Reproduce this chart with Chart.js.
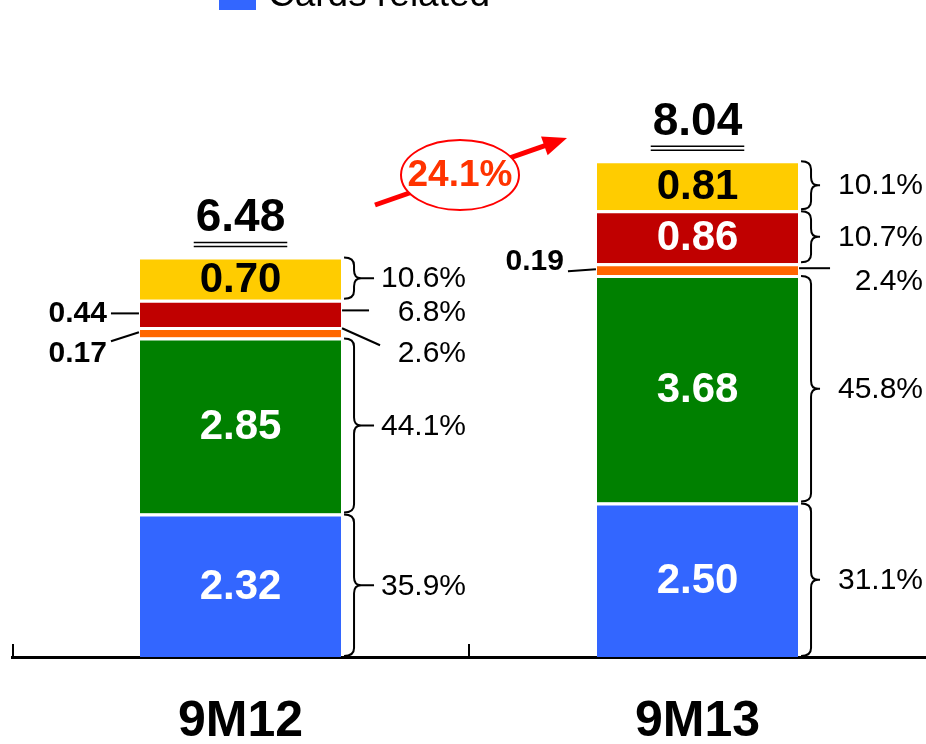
<!DOCTYPE html>
<html>
<head>
<meta charset="utf-8">
<script src="https://cdn.jsdelivr.net/npm/chart.js@4.4.0/dist/chart.umd.min.js"></script>
<style>
html, body { margin: 0; padding: 0; background: #fff; }
#wrap { width: 926px; height: 744px; }
</style>
</head>
<body>
<div id="wrap"><canvas id="chart" width="926" height="744"></canvas></div>
<script>
// Werte (EUR bn) je Periode, von unten nach oben gestapelt
const categories = ['9M12', '9M13'];
const cardsRelated = [2.32, 2.50];
const greenSeries = [2.85, 3.68];
const orangeSeries = [0.17, 0.19];
const redSeries = [0.44, 0.86];
const yellowSeries = [0.70, 0.81];
const totals = ['6.48', '8.04'];
const growthLabel = '24.1%';

// Anteile wie im Bild beschriftet
const cardsShare = ['35.9%', '31.1%'];
const greenShare = ['44.1%', '45.8%'];
const orangeShare = ['2.6%', '2.4%'];
const redShare = ['6.8%', '10.7%'];
const yellowShare = ['10.6%', '10.1%'];

const FONT = "'Liberation Sans', Arial, sans-serif";

const shares = [cardsShare, greenShare, orangeShare, redShare, yellowShare];
const insideTextColor = ['#fff', '#fff', '#fff', '#fff', '#000'];
const braceTip = [30, 19];

// kleine Segmente: Beschriftung links/rechts mit Linie
const leftCallouts = {
    '3-0': { dy: 0, lineDy: 0 },
    '2-0': { dy: 21, lineDy: -12 },
    '2-1': { dy: -7, lineDy: 9 }
};
const rightCallouts = {
    '3-0': { textDy: -1, s0: -3, s1: -3, len: 28 },
    '2-0': { textDy: 21, s0: -4, s1: 13, len: 39 },
    '2-1': { textDy: 13, s0: -1, s1: -1, len: 32 }
};

function drawBrace(ctx, x, top, bottom, tip) {
    const mid = (top + bottom) / 2;
    const w = 10;
    const r = Math.min(8, (bottom - top) / 4);
    ctx.beginPath();
    ctx.moveTo(x, top);
    ctx.quadraticCurveTo(x + w, top, x + w, top + r);
    ctx.lineTo(x + w, mid - r);
    ctx.quadraticCurveTo(x + w, mid, x + w + 7, mid);
    ctx.lineTo(x + tip, mid);
    ctx.moveTo(x + w + 7, mid);
    ctx.quadraticCurveTo(x + w, mid, x + w, mid + r);
    ctx.lineTo(x + w, bottom - r);
    ctx.quadraticCurveTo(x + w, bottom, x, bottom);
    ctx.stroke();
}

const annotations = {
    id: 'annotations',
    afterDatasetsDraw(chart) {
        const ctx = chart.ctx;
        const n = chart.data.datasets.length;
        ctx.save();
        ctx.strokeStyle = '#000';
        ctx.lineWidth = 2;

        for (let i = 0; i < n; i++) {
            const meta = chart.getDatasetMeta(i);
            meta.data.forEach((bar, j) => {
                const p = bar.getProps(['x', 'y', 'base', 'width'], true);
                const left = p.x - p.width / 2;
                const right = p.x + p.width / 2;
                const top = Math.min(p.y, p.base);
                const bottom = Math.max(p.y, p.base);
                const mid = (top + bottom) / 2;
                const h = bottom - top;
                const value = chart.data.datasets[i].data[j].toFixed(2);
                const key = i + '-' + j;

                // Wert
                if (h >= 35) {
                    ctx.font = 'bold 42px ' + FONT;
                    ctx.fillStyle = insideTextColor[i];
                    ctx.textAlign = 'center';
                    ctx.textBaseline = 'middle';
                    ctx.fillText(value, p.x, mid + 2);
                } else {
                    const c = leftCallouts[key] || { dy: 0, lineDy: 0 };
                    const ty = mid + c.dy;
                    ctx.font = 'bold 30px ' + FONT;
                    ctx.fillStyle = '#000';
                    ctx.textAlign = 'right';
                    ctx.textBaseline = 'middle';
                    ctx.fillText(value, left - 33, ty);
                    ctx.beginPath();
                    ctx.moveTo(left - 29, ty + c.lineDy);
                    ctx.lineTo(left - 1, mid);
                    ctx.stroke();
                }

                // Anteil rechts
                ctx.font = '30px ' + FONT;
                ctx.fillStyle = '#000';
                ctx.textAlign = 'right';
                ctx.textBaseline = 'middle';
                const tx = right + 125;
                if (h >= 35) {
                    drawBrace(ctx, right + 3, top + 1, bottom - 1, braceTip[j]);
                    ctx.fillText(shares[i][j], tx, mid + 1);
                } else {
                    const c = rightCallouts[key] || { textDy: 0, s0: 0, s1: 0, len: 28 };
                    ctx.beginPath();
                    ctx.moveTo(right + 1, mid + c.s0);
                    ctx.lineTo(right + c.len, mid + c.s1);
                    ctx.stroke();
                    ctx.fillText(shares[i][j], tx, mid + c.textDy);
                }
            });
        }

        // Summen mit doppelter Unterstreichung
        const topMeta = chart.getDatasetMeta(n - 1);
        topMeta.data.forEach((bar, j) => {
            const p = bar.getProps(['x', 'y'], true);
            ctx.font = 'bold 46px ' + FONT;
            ctx.fillStyle = '#000';
            ctx.textAlign = 'center';
            ctx.textBaseline = 'middle';
            ctx.fillText(totals[j], p.x, p.y - 38);
            const w = ctx.measureText(totals[j]).width + 4;
            ctx.lineWidth = 1.5;
            ctx.beginPath();
            ctx.moveTo(p.x - w / 2, p.y - 14);
            ctx.lineTo(p.x + w / 2, p.y - 14);
            ctx.moveTo(p.x - w / 2, p.y - 10);
            ctx.lineTo(p.x + w / 2, p.y - 10);
            ctx.stroke();
        });

        // Wachstumspfeil
        const b0 = topMeta.data[0].getProps(['x'], true);
        const b1 = topMeta.data[1].getProps(['x'], true);
        const cx = (b0.x + b1.x) / 2 - 9;
        const cy = 175;
        const sx = cx - 85, sy = cy + 30;
        const ex = cx + 107, ey = cy - 37;
        const ang = Math.atan2(ey - sy, ex - sx);
        ctx.strokeStyle = '#ff0000';
        ctx.fillStyle = '#ff0000';
        ctx.lineWidth = 5;
        ctx.beginPath();
        ctx.moveTo(sx, sy);
        ctx.lineTo(ex - 18 * Math.cos(ang), ey - 18 * Math.sin(ang));
        ctx.stroke();
        ctx.beginPath();
        ctx.moveTo(ex, ey);
        ctx.lineTo(ex - 24 * Math.cos(ang) + 10 * Math.sin(ang), ey - 24 * Math.sin(ang) - 10 * Math.cos(ang));
        ctx.lineTo(ex - 24 * Math.cos(ang) - 10 * Math.sin(ang), ey - 24 * Math.sin(ang) + 10 * Math.cos(ang));
        ctx.closePath();
        ctx.fill();
        ctx.beginPath();
        ctx.ellipse(cx, cy, 59, 35, 0, 0, Math.PI * 2);
        ctx.fillStyle = '#fff';
        ctx.fill();
        ctx.lineWidth = 2;
        ctx.stroke();
        ctx.font = 'bold 37px ' + FONT;
        ctx.fillStyle = '#ff3300';
        ctx.textAlign = 'center';
        ctx.textBaseline = 'middle';
        ctx.fillText(growthLabel, cx, cy + 1);

        // Trennstriche auf der x-Achse
        const xs = chart.scales.x;
        const axisY = chart.chartArea.bottom;
        ctx.strokeStyle = '#000';
        ctx.lineWidth = 2;
        ctx.beginPath();
        [chart.chartArea.left + 1, (xs.getPixelForTick(0) + xs.getPixelForTick(1)) / 2].forEach(x => {
            ctx.moveTo(x, axisY);
            ctx.lineTo(x, axisY - 13);
        });
        ctx.stroke();

        // Legende (nur unterster Eintrag sichtbar)
        ctx.fillStyle = chart.data.datasets[0].backgroundColor;
        ctx.fillRect(219, -27, 37, 37);
        ctx.font = '37px ' + FONT;
        ctx.fillStyle = '#000';
        ctx.textAlign = 'left';
        ctx.textBaseline = 'alphabetic';
        ctx.fillText(chart.data.datasets[0].label, 268, 6);

        ctx.restore();
    }
};

const barStyle = {
    borderColor: '#fff',
    borderWidth: { top: 3, left: 0, right: 0, bottom: 0 },
    barPercentage: 0.44,
    categoryPercentage: 1
};

new Chart(document.getElementById('chart'), {
    type: 'bar',
    data: {
        labels: categories,
        datasets: [
            { label: 'Cards related', data: cardsRelated, backgroundColor: '#3366ff', ...barStyle },
            { label: 'Series 2', data: greenSeries, backgroundColor: '#008000', ...barStyle },
            { label: 'Series 3', data: orangeSeries, backgroundColor: '#ff6600', ...barStyle },
            { label: 'Series 4', data: redSeries, backgroundColor: '#c00000', ...barStyle },
            { label: 'Series 5', data: yellowSeries, backgroundColor: '#ffcc00', ...barStyle }
        ]
    },
    options: {
        responsive: false,
        animation: false,
        layout: { padding: { left: 12, right: 0, top: 39, bottom: 0 } },
        plugins: {
            legend: { display: false },
            tooltip: { enabled: false }
        },
        scales: {
            x: {
                stacked: true,
                grid: { display: false },
                border: { display: true, color: '#000', width: 3 },
                ticks: {
                    color: '#000',
                    padding: 27,
                    font: { family: FONT, size: 50, weight: 'bold' }
                },
                afterFit(scale) {
                    scale.height = 87;
                }
            },
            y: {
                stacked: true,
                display: false,
                min: 0,
                max: 10
            }
        }
    },
    plugins: [annotations]
});
</script>
</body>
</html>
